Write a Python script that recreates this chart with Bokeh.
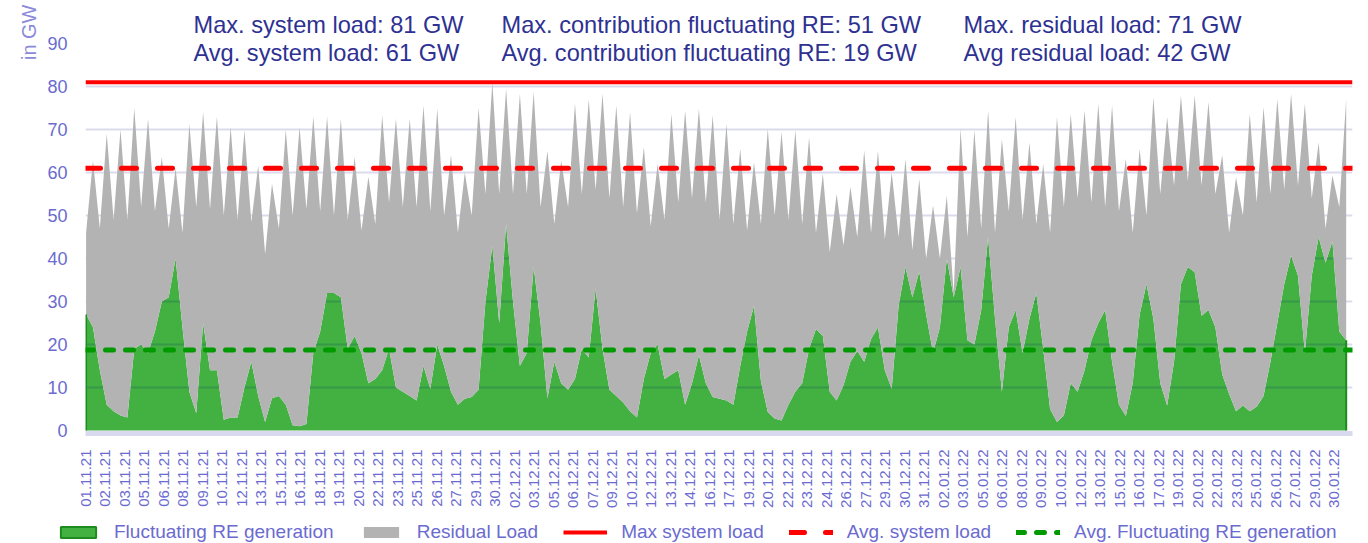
import numpy as np
from bokeh.plotting import figure
from bokeh.layouts import column, row
from bokeh.models import Range1d, FixedTicker, Label, Legend, LegendItem, Title
from bokeh.embed import file_html
from bokeh.resources import INLINE

# ---------------- data ----------------
# system load, GW: night minimum and daytime maximum per day (01.11.21 .. 31.01.22)
load_night = [46, 47, 49, 49, 52, 51, 47, 46, 52, 51.5,
              50, 49, 48.5, 41, 47, 50, 51.5, 51, 50, 49,
              46.5, 48, 53, 52, 52, 51, 50, 46, 50, 55,
              55, 55, 55, 52, 48, 52, 55, 56, 54, 52,
              50.5, 47.5, 49, 53, 54, 53, 49, 48, 46.5, 48,
              50, 49, 48, 46, 41.5, 43, 45, 46, 44.5, 45,
              42, 40, 40, 32, 45, 47, 46, 51, 49, 48,
              46, 52, 54, 53, 52, 51, 46, 50, 55, 57,
              58, 57, 55, 46, 50, 53, 55, 56, 57, 54,
              47, 52]
load_day = [62.8, 69, 70, 75, 72.5, 63.6, 61, 71.3, 74, 73,
            70.5, 69.8, 61.6, 57.4, 70, 70.5, 73, 73, 72.5, 63.6,
            59, 73.3, 72.5, 72.5, 75.6, 74.8, 64, 60, 75, 81,
            79.5, 78.3, 78.7, 65, 62.8, 76, 77, 78.3, 75.6, 74,
            65.9, 62, 73.6, 74.4, 74.8, 73.3, 71.3, 65.5, 62.4, 70.2,
            69.4, 69.8, 68.2, 59.7, 55, 56.6, 65.1, 65.1, 60, 63.2,
            58.5, 52.3, 54.6, 70.2, 69.8, 74.4, 67.8, 72.9, 67, 62,
            72.9, 73.6, 74.4, 76, 75.6, 63.2, 65.5, 77.5, 72.9, 77.9,
            77.9, 76.4, 64, 58.9, 73.6, 75.2, 77.1, 78.3, 76, 67,
            59.3, 77.1]
# fluctuating RE generation, GW: at night and at midday per day
re_night = [27, 14, 4.5, 3, 20, 23, 31, 24, 4, 14,
            2.5, 3, 16, 2, 8, 1.2, 1.5, 23, 32, 19,
            18, 12, 19, 9, 7, 9.7, 15, 6, 7.8, 30,
            25, 30, 18, 25, 16, 9.5, 19, 33, 9.5, 6.5,
            3, 18, 12, 14, 11, 11, 7.4, 6, 23, 11.5,
            2.8, 6, 11, 23.6, 9, 10.5, 18.5, 21.3, 14, 29,
            31, 27, 24, 31, 21, 28, 26, 24, 18, 32,
            5, 3.5, 9, 21, 28, 6, 11, 34, 11, 16,
            38, 26.7, 24, 8.5, 5.8, 5.5, 16, 34, 36, 36,
            39, 23]
re_midday = [24, 6, 3.5, 19, 18, 30, 40, 9, 25, 14,
             3, 10, 8, 7.5, 6, 1, 18, 32, 31, 22,
             11, 14, 10, 8, 15, 20, 9, 7.4, 9.5, 43,
             48, 15, 38, 7.5, 11, 12, 17, 19, 8, 4.5,
             12, 20, 13, 6, 17.5, 7.8, 7, 15, 29, 4.3,
             2.3, 9, 19, 22, 7, 16, 16, 24, 9.7, 38,
             37, 18, 40, 38, 20, 45, 9, 28, 26, 19,
             2, 11, 14, 25, 16, 3.4, 27, 26, 5.8, 34,
             36.8, 28, 13, 4.5, 4.5, 8, 25, 40.7, 18, 45,
             44, 21]

max_system_load = 81
avg_system_load = 61
avg_re_generation = 18.7

tick_labels = ["01.11.21", "02.11.21", "03.11.21", "05.11.21", "06.11.21", "08.11.21",
               "09.11.21", "10.11.21", "12.11.21", "13.11.21", "15.11.21", "16.11.21",
               "18.11.21", "19.11.21", "20.11.21", "22.11.21", "23.11.21", "25.11.21",
               "26.11.21", "27.11.21", "29.11.21", "30.11.21", "02.12.21", "03.12.21",
               "05.12.21", "06.12.21", "07.12.21", "09.12.21", "10.12.21", "12.12.21",
               "13.12.21", "14.12.21", "16.12.21", "17.12.21", "19.12.21", "20.12.21",
               "22.12.21", "23.12.21", "24.12.21", "26.12.21", "27.12.21", "29.12.21",
               "30.12.21", "31.12.21", "02.01.22", "03.01.22", "05.01.22", "06.01.22",
               "08.01.22", "09.01.22", "10.01.22", "12.01.22", "13.01.22", "15.01.22",
               "16.01.22", "17.01.22", "19.01.22", "20.01.22", "22.01.22", "23.01.22",
               "25.01.22", "26.01.22", "27.01.22", "29.01.22", "30.01.22"]
hours_per_tick = 34

stats_max = ["Max. system load: 81 GW", "Max. contribution fluctuating RE: 51 GW",
             "Max. residual load: 71 GW"]
stats_avg = ["Avg. system load: 61 GW", "Avg. contribution fluctuating RE: 19 GW",
             "Avg residual load:  42 GW"]

legend_labels = ["Fluctuating RE generation", "Residual Load", "Max system load",
                 "Avg. system load", "Avg. Fluctuating RE generation"]

# ---------------- build series on an hourly axis ----------------
n_days = len(load_day)
n_hours = n_days * 24
days = np.arange(n_days)

t = np.column_stack([days * 24 + 1, days * 24 + 13]).ravel()
load_y = np.column_stack([load_night, load_day]).ravel()
re_y = np.column_stack([re_night, re_midday]).ravel()

FONT = "Liberation Sans"
NAVY = "#2e3192"
TICK_BLUE = "#6b6bcf"
GREEN = "#42b142"
DARK_GREEN = "#1e8c1e"
GRAY = "#b3b3b3"

W = 1368
MAIN_H, LEG_H = 513, 30
PX_PER_GW = 4.3
FRAME_TOP, FRAME_BOTTOM = 0, 433       # page pixels
ZERO_PX = 430
y_top = (ZERO_PX - FRAME_TOP) / PX_PER_GW
y_bottom = (ZERO_PX - FRAME_BOTTOM) / PX_PER_GW

p = figure(width=W, height=MAIN_H, output_backend="svg", toolbar_location=None,
           x_range=Range1d(0, n_hours), y_range=Range1d(y_bottom, y_top),
           min_border_left=85, min_border_right=16, min_border_top=FRAME_TOP,
           min_border_bottom=MAIN_H - FRAME_BOTTOM)
p.outline_line_color = None
p.background_fill_color = "white"
p.border_fill_color = "white"

# green below the grid, residual (gray) stacked on top of it above the grid
green_r = p.varea(x=t, y1=0, y2=re_y, fill_color=GREEN, level="image")
gray_r = p.varea(x=t, y1=re_y, y2=load_y, fill_color=GRAY)
p.line(x=[t[0], t[0]], y=[0, re_y[0]], line_color=DARK_GREEN, line_width=2)
p.line(x=[t[-1], t[-1]], y=[0, re_y[-1]], line_color=DARK_GREEN, line_width=2)

line_styles = [dict(line_color="#ff0000", line_width=4),
               dict(line_color="#ff0000", line_width=5, line_dash="15 21", line_cap="round"),
               dict(line_color="#009a00", line_width=5, line_dash="8 12", line_cap="round")]
for level_gw, style in zip([max_system_load, avg_system_load, avg_re_generation], line_styles):
    p.line(x=[0, n_hours], y=[level_gw] * 2, **style)

# grid
p.xgrid.visible = False
p.ygrid.ticker = FixedTicker(ticks=list(range(10, 90, 10)))
p.ygrid.grid_line_color = "#000080"
p.ygrid.grid_line_alpha = 0.14
p.ygrid.grid_line_width = 2

# y axis
p.yaxis.ticker = FixedTicker(ticks=list(range(0, 100, 10)))
p.yaxis.axis_line_color = None
p.yaxis.major_tick_line_color = None
p.yaxis.minor_tick_line_color = None
p.yaxis.major_label_text_font = FONT
p.yaxis.major_label_text_font_size = "18px"
p.yaxis.major_label_text_color = TICK_BLUE
p.yaxis.major_label_standoff = 12

p.add_layout(Title(text="in GW", align="right", text_font=FONT, text_font_size="20px",
                   text_font_style="normal", text_color="#8b8bd9", standoff=10,
                   offset=4), "left")

# x axis
tick_pos = [i * hours_per_tick for i in range(len(tick_labels))]
p.xaxis.ticker = FixedTicker(ticks=tick_pos)
p.xaxis.major_label_overrides = {tp: lbl for tp, lbl in zip(tick_pos, tick_labels)}
p.xaxis.major_label_orientation = np.pi / 2
p.xaxis.axis_line_color = "#d9d9ef"
p.xaxis.axis_line_width = 5
p.xaxis.major_tick_line_color = None
p.xaxis.minor_tick_line_color = None
p.xaxis.major_label_text_font = FONT
p.xaxis.major_label_text_font_size = "15px"
p.xaxis.major_label_text_color = TICK_BLUE
p.xaxis.major_label_standoff = 10

# header statistics (inside the frame's upper white area)
px_per_hour = 1267 / n_hours
col_x = [(193 - 85) / px_per_hour, (501 - 85) / px_per_hour, (963 - 85) / px_per_hour]
for row_txt, row_px in ((stats_max, 24), (stats_avg, 52)):
    for txt, cx in zip(row_txt, col_x):
        p.add_layout(Label(x=cx, y=(ZERO_PX - row_px) / PX_PER_GW, text=txt, text_font=FONT,
                           text_font_size="23.6px", text_color=NAVY,
                           text_baseline="middle"))

# ---------------- legend strip (separate small figure) ----------------
q = figure(width=W, height=LEG_H, output_backend="svg", toolbar_location=None,
           x_range=Range1d(0, n_hours), y_range=Range1d(0, 1),
           x_axis_location=None, y_axis_location=None,
           min_border_left=0, min_border_right=0, min_border_top=0, min_border_bottom=0)
q.outline_line_color = None
q.grid.visible = False
q.border_fill_color = "white"

lg_green = q.patch(x=np.concatenate([t, t[::-1]]),
                   y=np.concatenate([re_y, np.zeros_like(re_y)]),
                   fill_color=GREEN, line_color=DARK_GREEN, line_width=2, visible=False)
lg_gray = q.varea(x=t, y1=re_y, y2=load_y, fill_color=GRAY, visible=False)
lg_lines = [q.line(x=[0, n_hours], y=[lv] * 2, visible=False, **st)
            for lv, st in zip([max_system_load, avg_system_load, avg_re_generation], line_styles)]

legend = Legend(items=[LegendItem(label=legend_labels[0], renderers=[lg_green]),
                       LegendItem(label=legend_labels[1], renderers=[lg_gray]),
                       LegendItem(label=legend_labels[2], renderers=[lg_lines[0]]),
                       LegendItem(label=legend_labels[3], renderers=[lg_lines[1]]),
                       LegendItem(label=legend_labels[4], renderers=[lg_lines[2]])],
                orientation="horizontal", location=(56, 0),
                glyph_width=44, glyph_height=14, label_standoff=14, spacing=25,
                label_text_font=FONT, label_text_font_size="19px",
                label_text_color=TICK_BLUE, border_line_color=None,
                background_fill_alpha=0, padding=2, margin=0)
q.add_layout(legend)

open("out.html", "w").write(file_html(column(p, row(q), spacing=0), INLINE))
